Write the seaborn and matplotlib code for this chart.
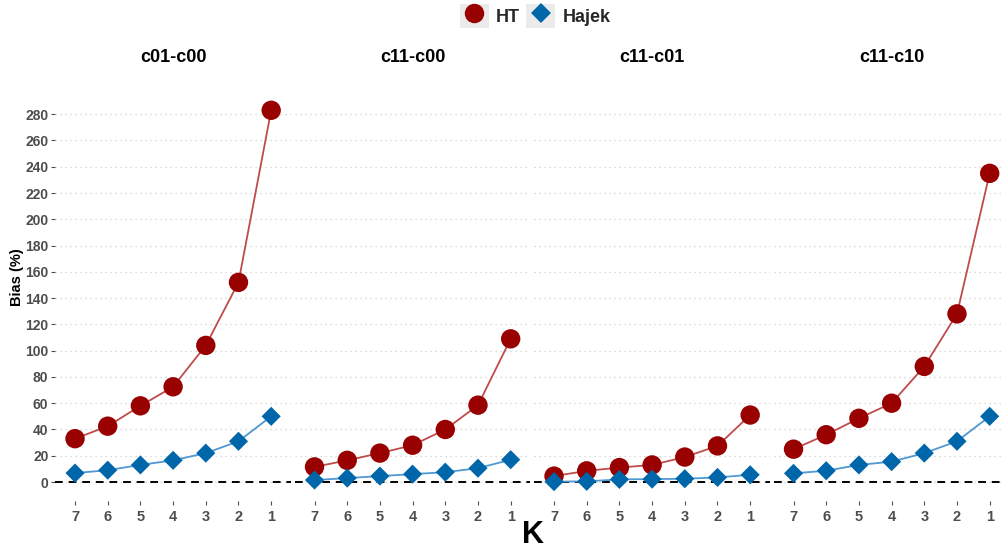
import numpy as np
import pandas as pd
import matplotlib
matplotlib.use("Agg")
import matplotlib.pyplot as plt
import seaborn as sns
from matplotlib.lines import Line2D
from matplotlib.patches import Patch
from matplotlib.legend_handler import HandlerTuple

sns.set_theme(style="white")
plt.rcParams["font.family"] = ["Liberation Sans", "DejaVu Sans"]

# ---- data -------------------------------------------------------------
k_values = [7, 6, 5, 4, 3, 2, 1]
contrasts = ["c01-c00", "c11-c00", "c11-c01", "c11-c10"]
estimators = ["HT", "Hajek"]

ht_c01_c00 = [33, 42.5, 58, 72.5, 104, 152, 283]
hajek_c01_c00 = [6.8, 9, 13, 16.5, 22, 31, 50]

ht_c11_c00 = [11.5, 16.5, 22, 28, 40, 58.5, 109]
hajek_c11_c00 = [1.5, 3, 4.5, 6, 7.5, 10.5, 17]

ht_c11_c01 = [4.5, 8.5, 11, 13, 19, 27.5, 51]
hajek_c11_c01 = [0.3, 0.5, 2, 2.2, 2.5, 3.5, 5.5]

ht_c11_c10 = [25, 36, 48.5, 60, 88, 128, 235]
hajek_c11_c10 = [6.6, 8.6, 13, 15.5, 22, 31, 50]

y_ticks = list(range(0, 281, 20))

series = {
    "c01-c00": (ht_c01_c00, hajek_c01_c00),
    "c11-c00": (ht_c11_c00, hajek_c11_c00),
    "c11-c01": (ht_c11_c01, hajek_c11_c01),
    "c11-c10": (ht_c11_c10, hajek_c11_c10),
}

rows = []
for c in contrasts:
    ht, hj = series[c]
    for est, vals in zip(estimators, (ht, hj)):
        for k, v in zip(k_values, vals):
            rows.append({"contrast": c, "estimator": est, "K": k, "bias": v})
df = pd.DataFrame(rows)

# ---- styling ----------------------------------------------------------
point_pal = {"HT": "#990000", "Hajek": "#0066AA"}
line_pal = {"HT": "#BF4B4B", "Hajek": "#4F98D3"}
marker_map = {"HT": "o", "Hajek": "D"}
size_map = {"HT": 195, "Hajek": 95}
tick_grey = "#4D4D4D"

W, H = 1002, 550
fig = plt.figure(figsize=(W / 100, H / 100), dpi=100)

ymax = df["bias"].max()
ymin = 0.0
pad = 0.05 * (ymax - ymin)
ylim = (ymin - pad, ymax + pad)

ax_bottom_px, ax_top_px = 500.6, 91.7
panel_w_px = 235.4
panel_left_px = [55.4, 294.9, 534.4, 773.9]

axes = []
for i, c in enumerate(contrasts):
    ax = fig.add_axes([panel_left_px[i] / W, 1 - ax_bottom_px / H,
                       panel_w_px / W, (ax_bottom_px - ax_top_px) / H])
    axes.append(ax)
    sub = df[df["contrast"] == c]

    ax.yaxis.grid(True, linestyle=(0, (1, 3)), color="#CFCFCF", linewidth=0.9, zorder=0)
    ax.xaxis.grid(False)
    ax.set_axisbelow(True)

    ax.axhline(0, color="black", linestyle=(0, (4, 3)), linewidth=1.4, zorder=1)

    sns.lineplot(data=sub, x="K", y="bias", hue="estimator", hue_order=estimators,
                 palette=line_pal, linewidth=1.3, legend=False, ax=ax, zorder=2)
    sns.scatterplot(data=sub, x="K", y="bias", hue="estimator", hue_order=estimators,
                    palette=point_pal, style="estimator", markers=marker_map,
                    size="estimator", sizes=size_map, linewidth=0, legend=False,
                    ax=ax, zorder=3)

    ax.set_xlim(7.6, 0.4)
    ax.set_ylim(*ylim)
    ax.set_xticks(k_values)
    ax.set_xticklabels([str(k) for k in k_values], fontsize=10.5,
                       fontweight="bold", color=tick_grey)
    ax.set_yticks(y_ticks)
    ax.set_xlabel("")
    ax.set_ylabel("")
    for s in ax.spines.values():
        s.set_visible(False)
    ax.tick_params(axis="x", length=3, width=0.8, color=tick_grey, pad=4, bottom=True)
    if i == 0:
        ax.set_yticklabels([str(t) for t in y_ticks], fontsize=10,
                           fontweight="bold", color=tick_grey)
        ax.tick_params(axis="y", length=3, width=0.8, color=tick_grey, pad=2, left=True)
    else:
        ax.tick_params(axis="y", left=False, labelleft=False)

    ax.text(0.5, (ax_bottom_px - 57) / (ax_bottom_px - ax_top_px), c,
            transform=ax.transAxes, ha="center", va="center",
            fontsize=13, fontweight="bold", color="black")

fig.text(17 / W, 1 - 277 / H, "Bias (%)", rotation=90, ha="center", va="center",
         fontsize=10.5, fontweight="bold", color="black")
fig.text(533 / W, 1 - 535 / H, "K", ha="center", va="center",
         fontsize=22, fontweight="bold", color="black")

# legend with grey key backgrounds
handles = []
for est in estimators:
    bg = Patch(facecolor="#EBEBEB", edgecolor="none")
    mk = Line2D([], [], linestyle="none", marker=marker_map[est],
                markersize=14 if est == "HT" else 10.5,
                markerfacecolor=point_pal[est], markeredgewidth=0)
    handles.append((bg, mk))
fig.legend(handles, estimators, loc="center", bbox_to_anchor=(535 / W, 1 - 16 / H),
           ncol=2, frameon=False, handler_map={tuple: HandlerTuple(ndivide=1)},
           prop={"size": 13, "weight": "bold"}, handlelength=1.6, handleheight=1.6,
           handletextpad=0.4, columnspacing=0.35, borderaxespad=0, borderpad=0)

fig.savefig("out.png", dpi=100)
